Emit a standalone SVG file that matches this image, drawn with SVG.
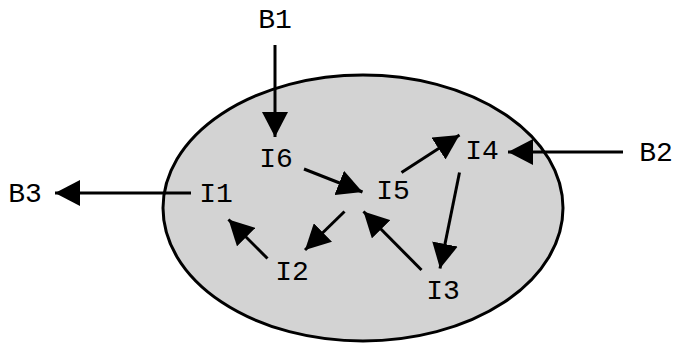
<svg xmlns="http://www.w3.org/2000/svg" width="676" height="343" viewBox="0 0 676 343">
<style>
.lbl{font-family:"Liberation Mono","Courier New",monospace;font-size:28px;fill:#000;text-anchor:middle}
.edge{stroke:#000;stroke-width:3;fill:none;marker-end:url(#ah)}
</style>
<defs>
<marker id="ah" markerUnits="userSpaceOnUse" markerWidth="26" markerHeight="26" refX="25" refY="13" orient="auto" viewBox="0 0 26 26">
<path d="M0,0 L25,13 L0,26 z" fill="#000"/>
</marker>
</defs>
<g id="region"><ellipse cx="363" cy="208" rx="200" ry="133" fill="#d3d3d3" stroke="#000" stroke-width="3"/></g>
<g id="connectors">
<line class="edge" x1="275" y1="45" x2="275" y2="137"/>
<line class="edge" x1="623" y1="152" x2="508" y2="152"/>
<line class="edge" x1="191" y1="193" x2="55" y2="193"/>
<line class="edge" x1="304" y1="169" x2="362.5" y2="192"/>
<line class="edge" x1="401.5" y1="172.5" x2="459.5" y2="135"/>
<line class="edge" x1="459.5" y1="172.5" x2="440" y2="268.5"/>
<line class="edge" x1="344.5" y1="211.5" x2="305" y2="250"/>
<line class="edge" x1="421.5" y1="270" x2="363.5" y2="211.5"/>
<line class="edge" x1="267.5" y1="258.5" x2="228.5" y2="219.5"/>
</g>
<g id="B1"><text class="lbl" x="275" y="28">B1</text></g>
<g id="B2"><text class="lbl" x="656" y="161">B2</text></g>
<g id="B3"><text class="lbl" x="25" y="202">B3</text></g>
<g id="I1"><text class="lbl" x="216" y="202">I1</text></g>
<g id="I2"><text class="lbl" x="292" y="280">I2</text></g>
<g id="I3"><text class="lbl" x="443" y="299">I3</text></g>
<g id="I4"><text class="lbl" x="482" y="159">I4</text></g>
<g id="I5"><text class="lbl" x="393" y="199">I5</text></g>
<g id="I6"><text class="lbl" x="276" y="167">I6</text></g>
</svg>
